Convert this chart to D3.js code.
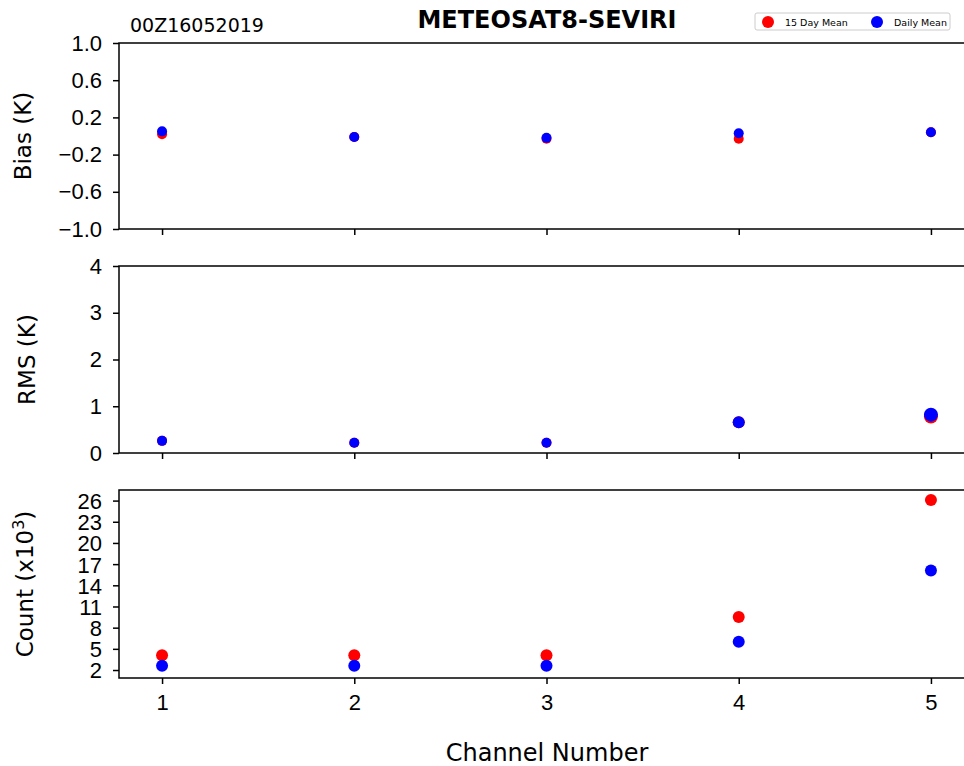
<!DOCTYPE html>
<html>
<head>
<meta charset="utf-8">
<script src="https://cdn.jsdelivr.net/npm/d3@7"></script>
<style>
    body { margin: 0; background: #fff; }
    svg { display: block; font-family: "DejaVu Sans", sans-serif; }
    .axis path, .axis line { stroke: #000; stroke-width: 1.5; }
    .axis text { font-size: 22px; fill: #000; }
</style>
</head>
<body>
<div id="chart"></div>
<script>
// values
const channels = [1, 2, 3, 4, 5];
const bias15Day = [0.02, -0.01, -0.03, -0.03, 0.04];
const biasDaily = [0.05, -0.01, -0.02, 0.03, 0.04];
const rms15Day = [0.26, 0.22, 0.22, 0.66, 0.78];
const rmsDaily = [0.26, 0.22, 0.22, 0.66, 0.82];
const count15Day = [4.1, 4.1, 4.1, 9.5, 26.1];
const countDaily = [2.6, 2.6, 2.6, 6.0, 16.1];
const biasTicks = [1.0, 0.6, 0.2, -0.2, -0.6, -1.0];
const rmsTicks = [0, 1, 2, 3, 4];
const countTicks = [2, 5, 8, 11, 14, 17, 20, 23, 26];

const width = 964, height = 766;
const svg = d3.select("#chart").append("svg")
    .attr("width", width)
    .attr("height", height);

const x = d3.scaleLinear().domain([0.776, 5.224]).range([119, 974]);

// rough marker radii per panel (matplotlib sizes differ between panels)
const panels = [
    {top: 43, bottom: 229, domain: [-1, 1], ticks: biasTicks, fmt: d3.format(".1f"),
     red: bias15Day, blue: biasDaily, radius: () => 5, label: "Bias (K)", labelX: 31},
    {top: 266, bottom: 453, domain: [0, 4], ticks: rmsTicks, fmt: d3.format("d"),
     red: rms15Day, blue: rmsDaily, radius: (d, i) => [5, 5, 5, 6, 7][i], label: "RMS (K)", labelX: 35},
    {top: 490, bottom: 678, domain: [0.87, 27.5], ticks: countTicks, fmt: d3.format("d"),
     red: count15Day, blue: countDaily, radius: () => 6, label: null, labelX: 33}
];

panels.forEach((p, idx) => {
    const y = d3.scaleLinear().domain(p.domain).range([p.bottom, p.top]);
    const g = svg.append("g");

    // frame
    g.append("rect")
        .attr("x", x.range()[0])
        .attr("y", p.top)
        .attr("width", x.range()[1] - x.range()[0])
        .attr("height", p.bottom - p.top)
        .attr("fill", "none")
        .attr("stroke", "#000")
        .attr("stroke-width", 1.5);

    const yAxis = g.append("g")
        .attr("class", "axis")
        .attr("transform", "translate(" + x.range()[0] + ",0)")
        .call(d3.axisLeft(y).tickValues(p.ticks).tickFormat(d => p.fmt(d).replace("-", "\u2212")).tickSize(6).tickPadding(11));
    yAxis.select(".domain").remove();
    if (idx == 2) {
        yAxis.selectAll("text").attr("dy", "0.36em");
    }

    const xAxis = g.append("g")
        .attr("class", "axis")
        .attr("transform", "translate(0," + p.bottom + ")")
        .call(d3.axisBottom(x).tickValues(channels).tickFormat(d3.format("d")).tickSize(6).tickPadding(10));
    xAxis.select(".domain").remove();
    if (idx < 2) xAxis.selectAll("text").remove();

    // 15 day mean first, daily mean on top
    g.selectAll("circle.red")
        .data(p.red)
        .join("circle")
        .attr("class", "red")
        .attr("cx", (d, i) => x(channels[i]))
        .attr("cy", d => y(d))
        .attr("r", p.radius)
        .attr("fill", "red");

    g.selectAll("circle.blue")
        .data(p.blue)
        .join("circle")
        .attr("class", "blue")
        .attr("cx", (d, i) => x(channels[i]))
        .attr("cy", d => y(d))
        .attr("r", p.radius)
        .attr("fill", "blue");

    const cy = (p.top + p.bottom) / 2;
    const lab = svg.append("text")
        .attr("transform", "translate(" + p.labelX + "," + cy + ") rotate(-90)")
        .attr("text-anchor", "middle")
        .style("font-size", "23px");
    if (p.label) {
        lab.text(p.label);
    } else {
        lab.append("tspan").text("Count (x10");
        lab.append("tspan").text("3").attr("dy", -9).style("font-size", "16px");
        lab.append("tspan").text(")").attr("dy", 9);
    }
});

svg.append("text")
    .attr("x", 547).attr("y", 761)
    .attr("text-anchor", "middle")
    .style("font-size", "24px")
    .text("Channel Number");

svg.append("text")
    .attr("x", 547).attr("y", 28)
    .attr("text-anchor", "middle")
    .style("font-size", "24px")
    .style("font-weight", "bold")
    .text("METEOSAT8-SEVIRI");

svg.append("text")
    .attr("x", 130).attr("y", 32)
    .style("font-size", "19px")
    .text("00Z16052019");

// legend
const legend = svg.append("g").attr("transform", "translate(755,13)");
legend.append("rect")
    .attr("width", 195).attr("height", 17)
    .attr("rx", 2)
    .attr("fill", "#fff")
    .attr("stroke", "#ccc");
const legendItems = [{name: "15 Day Mean", color: "red", x: 13}, {name: "Daily Mean", color: "blue", x: 122}];
legendItems.forEach(it => {
    legend.append("circle").attr("cx", it.x).attr("cy", 9).attr("r", 6).attr("fill", it.color);
    legend.append("text")
        .attr("x", it.x + 17).attr("y", 12.5)
        .style("font-size", "9.5px")
        .text(it.name);
});
</script>
</body>
</html>
